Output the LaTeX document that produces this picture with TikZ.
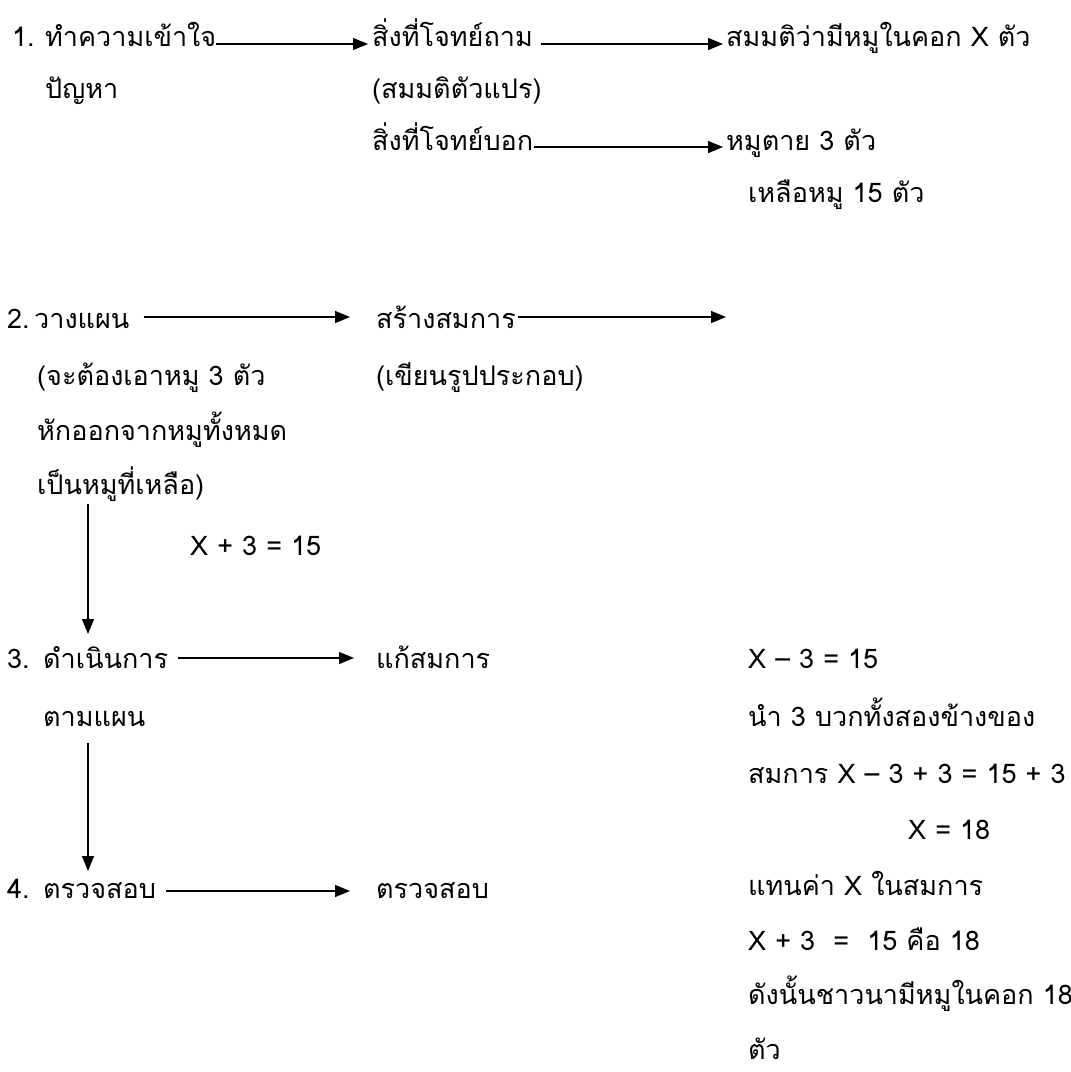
\documentclass[tikz,border=0pt]{standalone}
\usepackage{fontspec}
\setmainfont[Script=Thai]{Loma}
\usetikzlibrary{arrows.meta,calc}
\begin{document}
\begin{tikzpicture}[x=1pt,y=-1pt,
  lbl/.style={anchor=base west,inner sep=0pt,font=\fontsize{27}{32}\selectfont},
  conn/.style={line width=1.3pt,-{Triangle[length=15pt,width=12pt]}}]
\useasboundingbox[fill=white] (0,0) rectangle (1071,1072);
% step 1
\node[lbl] (n1)  at (12,46)  {\makebox[33pt][l]{1.}ทำความเข้าใจ};
\node[lbl] (n1b) at (45,98)  {ปัญหา};
\node[lbl] (q1)  at (372,46) {สิ่งที่โจทย์ถาม};
\node[lbl] (q1b) at (372,98) {(สมมติตัวแปร)};
\node[lbl] (q2)  at (372,150) {สิ่งที่โจทย์บอก};
\node[lbl] (a1)  at (726,46) {สมมติว่ามีหมูในคอก X ตัว};
\node[lbl] (a2)  at (726,150) {หมูตาย 3 ตัว};
\node[lbl] (a3)  at (748,202) {เหลือหมู 15 ตัว};
\draw[conn] ($(n1.base east)+(0,-2)$) -- ($(q1.base west)+(-4,-2)$);
\draw[conn] ($(q1.base east)+(8,-2)$) -- ($(a1.base west)+(-3,-2)$);
\draw[conn] ($(q2.base east)+(0,-3)$) -- ($(a2.base west)+(-3,-3)$);
% step 2
\node[lbl] (n2)  at (7,328)  {\makebox[27pt][l]{2.}วางแผน};
\node[lbl] (n2a) at (37,385) {(จะต้องเอาหมู 3 ตัว};
\node[lbl] (n2b) at (37,440) {หักออกจากหมูทั้งหมด};
\node[lbl] (n2c) at (37,494) {เป็นหมูที่เหลือ)};
\node[lbl] (eq1) at (190,555) {X + 3 = 15};
\node[lbl] (s2)  at (376,328) {สร้างสมการ};
\node[lbl] (s2b) at (376,385) {(เขียนรูปประกอบ)};
\coordinate (e2) at (726,317);
\draw[conn] ($(n2.base east)+(14,-11)$) -- ($(s2.base west)+(-26,-11)$);
\draw[conn] ($(s2.base east)+(2,-11)$) -- (e2);
% step 3
\node[lbl] (n3)  at (7,668)  {\makebox[36pt][l]{3.}ดำเนินการ};
\node[lbl] (n3b) at (43,726) {ตามแผน};
\node[lbl] (s3)  at (376,668) {แก้สมการ};
\node[lbl] (r1)  at (748,668) {X – 3 = 15};
\node[lbl] (r2)  at (748,726) {นำ 3 บวกทั้งสองข้างของ};
\node[lbl] (r3)  at (748,783) {สมการ X – 3 + 3 = 15 + 3};
\node[lbl] (r4)  at (908,839) {X = 18};
\coordinate (vx) at (88,0);
\draw[conn] ($(n2c.base west -| vx)+(0,10)$) -- ($(n3.base west -| vx)+(0,-34)$);
\draw[conn] ($(n3.base east)+(10,-10)$) -- ($(s3.base west)+(-22,-10)$);
% step 4
\node[lbl] (n4)  at (7,898)  {\makebox[36pt][l]{4.}ตรวจสอบ};
\node[lbl] (s4)  at (376,898) {ตรวจสอบ};
\node[lbl] (r5)  at (748,895) {แทนค่า X ในสมการ};
\node[lbl] (r6)  at (748,950) {X + 3 \ = \ 15 คือ 18};
\node[lbl] (r7)  at (748,1004) {ดังนั้นชาวนามีหมูในคอก 18};
\node[lbl] (r8)  at (748,1059) {ตัว};
\draw[conn] ($(n3b.base west -| vx)+(0,17)$) -- ($(n4.base west -| vx)+(0,-27)$);
\draw[conn] ($(n4.base east)+(10,-7)$) -- ($(s4.base west)+(-26,-7)$);
\end{tikzpicture}
\end{document}
